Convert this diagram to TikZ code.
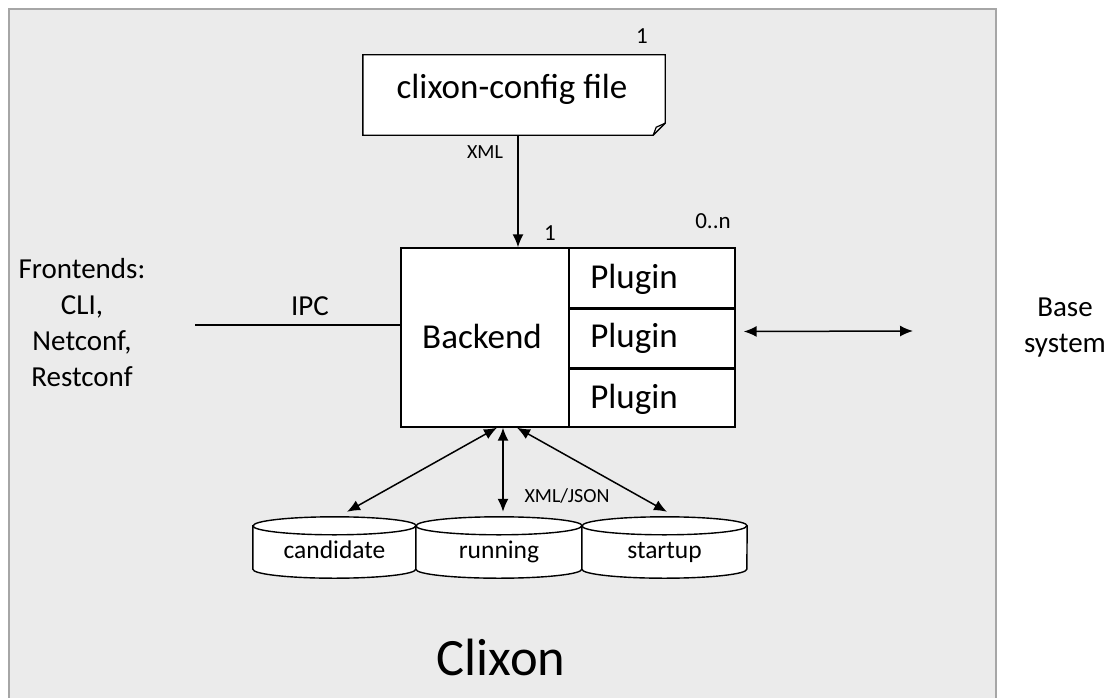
\documentclass[tikz,border=0pt]{standalone}
\usepackage{fontspec}
\setmainfont{Carlito}
\usetikzlibrary{arrows.meta}
\definecolor{bg}{HTML}{EBEBEB}
\definecolor{frame}{HTML}{A6A6A6}
\begin{document}
\begin{tikzpicture}[x=1pt,y=-1pt,
  box/.style={draw=black, fill=white, line width=1.4pt},
  big/.style={font=\fontsize{35}{42}\selectfont, anchor=base},
  lbl/.style={font=\fontsize{29}{36}\selectfont, align=center},
  small/.style={font=\fontsize{20}{24}\selectfont, anchor=base},
  num/.style={font=\fontsize{23}{27}\selectfont, anchor=base},
  dstxt/.style={font=\fontsize{25.5}{30}\selectfont, anchor=base},
  conn/.style={line width=1.5pt, -{Latex[length=13pt,width=11pt]}},
  bidir/.style={line width=1.5pt, {Latex[length=13pt,width=11pt]}-{Latex[length=13pt,width=11pt]}},
]
\useasboundingbox (0,0) rectangle (1110,698);
\fill[white] (0,0) rectangle (1110,698);
\fill[bg] (9,9) rectangle (996,698);
\draw[frame, line width=2pt] (9,698) -- (9,9) -- (996,9) -- (996,698);

% config file
\node[inner sep=0pt, minimum width=302pt, minimum height=80pt] (cfg) at (514,95) {};
\draw[box] (cfg.north west) -- (cfg.north east) -- ([yshift=12pt]cfg.south east)
  -- ([xshift=-12pt]cfg.south east) -- (cfg.south west) -- cycle;
\draw[line width=1.2pt] ([xshift=-12pt]cfg.south east) -- ([xshift=-9pt,yshift=8pt]cfg.south east) -- ([yshift=12pt]cfg.south east);
\node[big] (cfgtext) at (512,99) {clixon-config file};
\node[num] (n1) at (642,44) {1};

% backend and plugins
\node[box, inner sep=0pt, minimum width=168pt, minimum height=179pt] (be) at (485,337.5) {};
\node[big] (betext) at (482,348) {Backend};
\node[box, inner sep=0pt, minimum width=166pt, minimum height=59.7pt] (p1) at (652,277.8) {};
\node[box, inner sep=0pt, minimum width=166pt, minimum height=59.7pt] (p2) at (652,337.5) {};
\node[box, inner sep=0pt, minimum width=166pt, minimum height=59.7pt] (p3) at (652,397.2) {};
\draw[line width=3pt] (p1.south west) -- (p1.south east);
\draw[line width=3pt] (p2.south west) -- (p2.south east);
\node[big] at (634,288) {Plugin};
\node[big] at (634,347) {Plugin};
\node[big] at (634,408) {Plugin};
\node[num] (n2) at (550,240) {1};
\node[num] (n3) at (713,228) {0..n};

% XML arrow
\draw[conn] ([xshift=4pt]cfg.south) -- ([xshift=33pt]be.north);
\node[small] (xml) at (485,158) {XML};

% frontends
\node[lbl] (front) at (82,323) {Frontends:\\CLI,\\Netconf,\\Restconf};
\coordinate (fe) at (195,325);
\draw[line width=1.4pt] (fe) -- (fe -| be.west);
\node[lbl, anchor=base] (ipc) at (310,315) {IPC};

% base system
\node[lbl] (base) at (1065,328) {Base\\system};
\coordinate (bs) at (913,331);
\draw[bidir] ([xshift=8pt,yshift=6pt]p2.east) -- (bs);

% datastores
\node[inner sep=0pt, minimum width=163pt, minimum height=43pt] (ds1) at (334.5,547.5) {};
\node[inner sep=0pt, minimum width=166pt, minimum height=43pt] (ds2) at (499,547.5) {};
\node[inner sep=0pt, minimum width=165pt, minimum height=43pt] (ds3) at (664.5,547.5) {};
\foreach \n/\w in {ds1/81.5, ds2/83, ds3/82.5} {
  \draw[box] (\n.north west) -- (\n.south west)
    arc[start angle=180, end angle=360, x radius=\w pt, y radius=9pt]
    -- (\n.north east)
    arc[start angle=0, end angle=180, x radius=\w pt, y radius=9pt] -- cycle;
  \draw[line width=1.4pt] (\n.north west)
    arc[start angle=180, end angle=360, x radius=\w pt, y radius=9pt];
}
\node[dstxt] at (334.5,558) {candidate};
\node[dstxt] at (499,558) {running};
\node[dstxt] at (664.5,558) {startup};

\draw[bidir] ([xshift=12.5pt,yshift=14pt]ds1.north) -- ([xshift=12pt]be.south);
\draw[bidir] ([xshift=4pt,yshift=14pt]ds2.north) -- ([xshift=18pt]be.south);
\draw[bidir] ([xshift=2.5pt,yshift=14pt]ds3.north) -- ([xshift=32pt]be.south);
\node[small] (xj) at (567,502) {XML/JSON};

\node[font=\fontsize{52.5}{60}\selectfont, anchor=base] (clixon) at (501,675) {Clixon};
\end{tikzpicture}
\end{document}
